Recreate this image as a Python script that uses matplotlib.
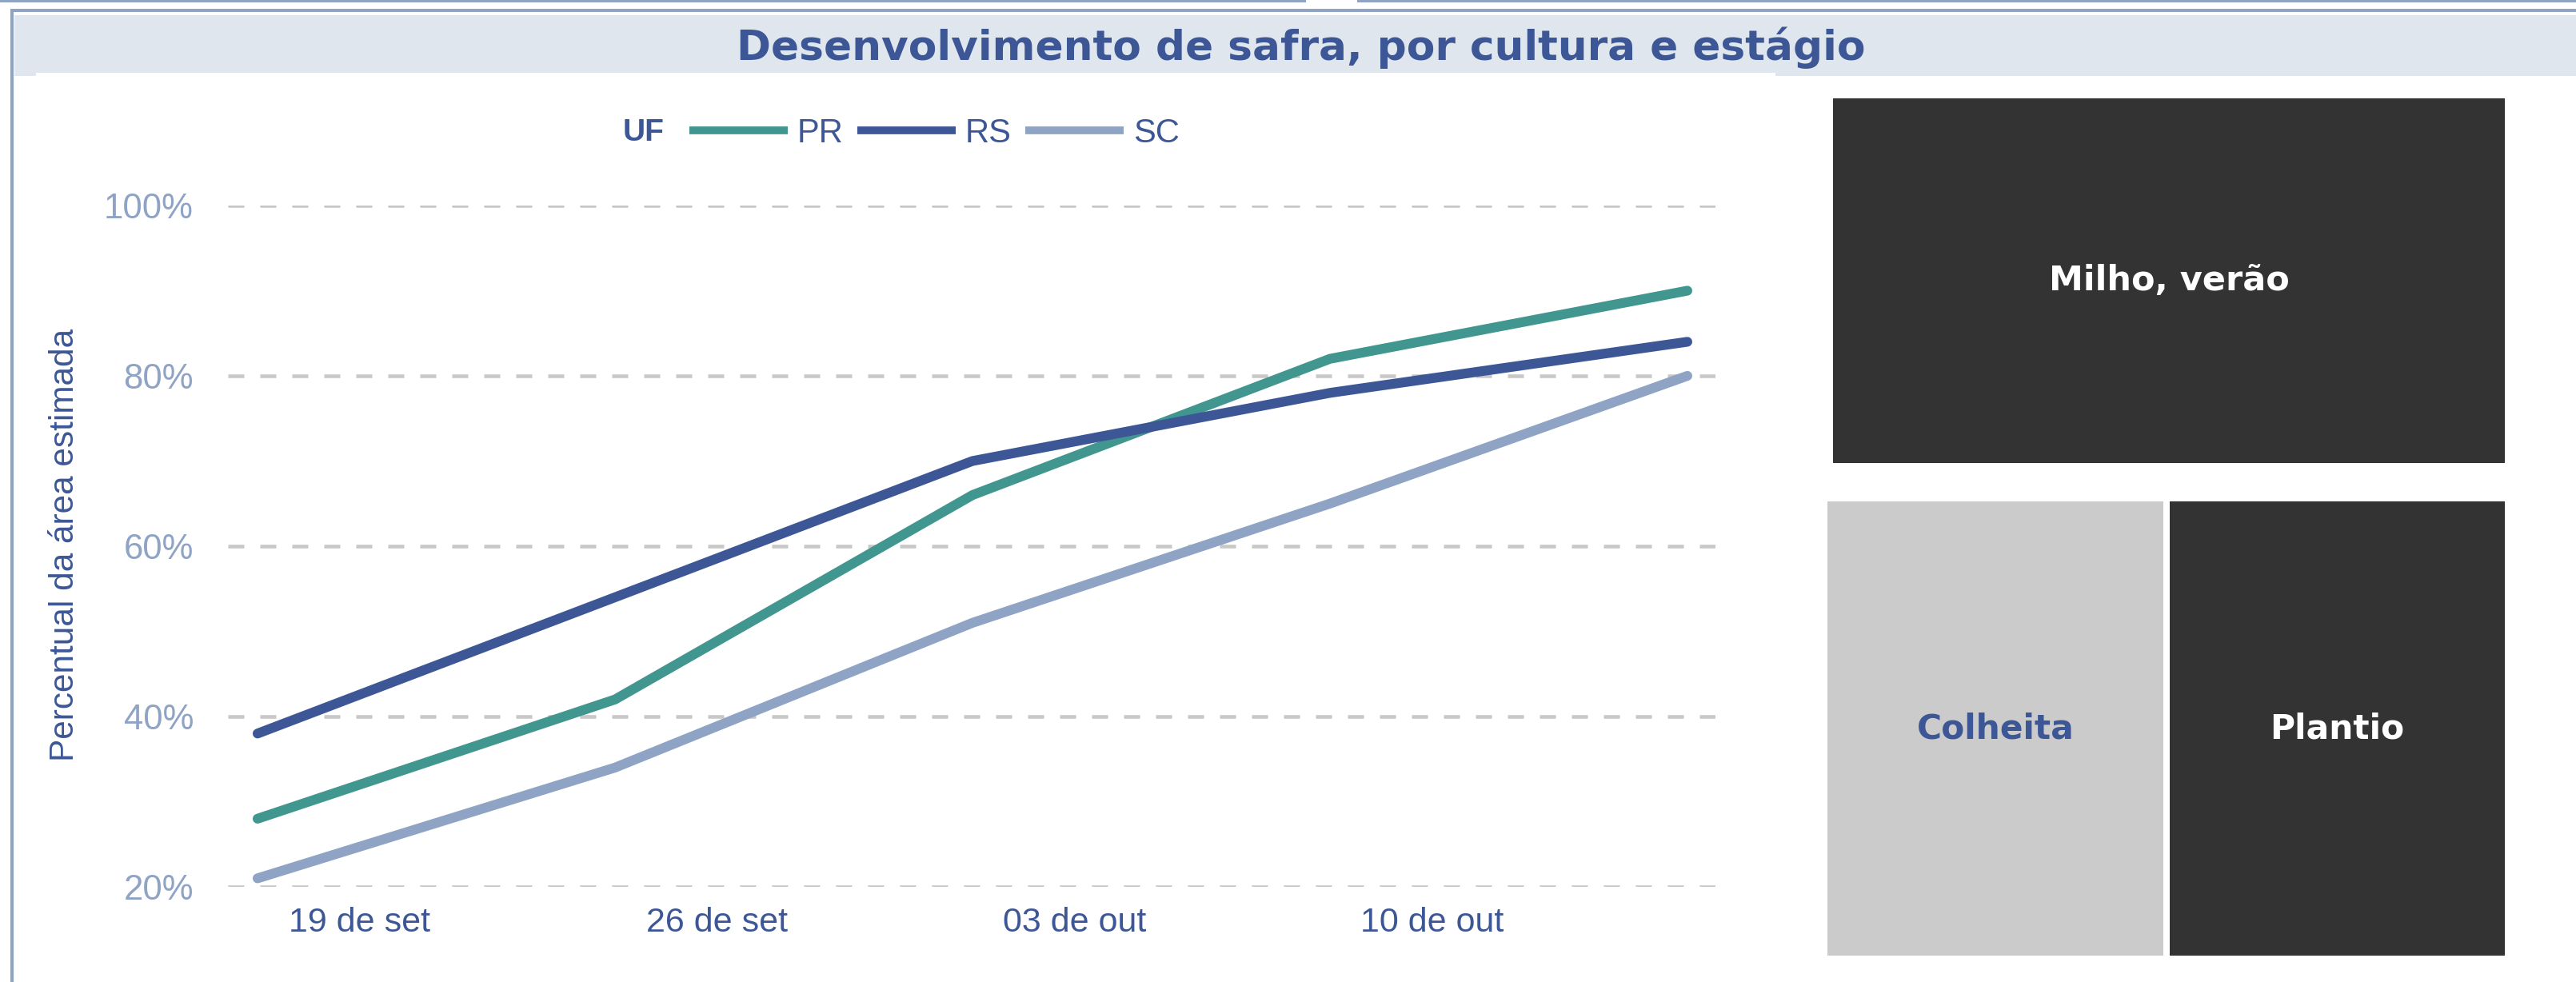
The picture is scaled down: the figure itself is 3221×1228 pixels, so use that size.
import matplotlib
matplotlib.use('Agg')
import matplotlib.pyplot as plt
from matplotlib.patches import Rectangle
from matplotlib.lines import Line2D
import pandas as pd

plt.rcParams['font.family'] = ['Liberation Sans', 'DejaVu Sans']
plt.rcParams['lines.scale_dashes'] = False

# ---------------- data ----------------
title = "Desenvolvimento de safra, por cultura e estágio"
dates = pd.to_datetime(['2024-09-17', '2024-09-24', '2024-10-01', '2024-10-08', '2024-10-15'])
tick_dates = pd.to_datetime(['2024-09-19', '2024-09-26', '2024-10-03', '2024-10-10'])
tick_labels = ['19 de set', '26 de set', '03 de out', '10 de out']
series_names = ['PR', 'RS', 'SC']
pr = [28, 42, 66, 82, 90]
rs = [38, 54, 70, 78, 84]
sc = [21, 34, 51, 65, 80]
y_ticks = [20, 40, 60, 80, 100]
legend_title = 'UF'
y_label = 'Percentual da área estimada'
crop_label = 'Milho, verão'
stage_labels = ['Colheita', 'Plantio']

# ---------------- style ----------------
W, H, DPI = 3221, 1228, 100
BLUE = '#3D5796'
LIGHT = '#8FA3C4'
TEAL = '#41968F'
BAND = '#DFE6EE'
GRID = '#C8C8C8'
DARK = '#333333'
LGRAY = '#CBCBCB'
colors = [TEAL, BLUE, LIGHT]
BOLD_FAMILY = ['DejaVu Sans']

fig = plt.figure(figsize=(W / DPI, H / DPI), dpi=DPI)
fig.patch.set_facecolor('white')


def frect(x0, y0, x1, y1, color, z=0):
    """rectangle in pixel coords measured from top-left"""
    r = Rectangle((x0 / W, 1 - y1 / H), (x1 - x0) / W, (y1 - y0) / H,
                  transform=fig.transFigure, facecolor=color, edgecolor='none', zorder=z)
    fig.add_artist(r)
    return r


# frame decorations
frect(0, 0, 1633, 3, LIGHT)
frect(1697, 0, W, 3, LIGHT)
frect(13, 11, W, 15, LIGHT)
frect(13, 11, 17, H, LIGHT)
frect(18, 19, W, 91, BAND)
frect(18, 91, 45, 95, BAND)
frect(2220, 91, W, 95, BAND)
fig.text(1627 / W, 1 - 60 / H, title, ha='center', va='center', fontsize=37.3,
         fontweight='bold', color=BLUE, family=BOLD_FAMILY)

# ---------------- line chart ----------------
ax_l, ax_r, ax_t, ax_b = 285, 2145, 257, 1109
ax = fig.add_axes([ax_l / W, 1 - ax_b / H, (ax_r - ax_l) / W, (ax_b - ax_t) / H])
ax.set_facecolor('none')
for s in ax.spines.values():
    s.set_visible(False)

handles = []
for name, vals, c in zip(series_names, [pr, rs, sc], colors):
    ax.plot(dates, vals, color=c, lw=8.8, solid_capstyle='round',
            solid_joinstyle='round', clip_on=False, zorder=3, label=name)
    handles.append(Line2D([], [], color=c, lw=7, solid_capstyle='butt'))

ax.set_xlim(dates[0] - pd.Timedelta(days=0.58), dates[-1] + pd.Timedelta(days=0.55))
ax.set_ylim(20, 100)
ax.set_yticks(y_ticks)
ax.set_yticklabels([f'{v}%' for v in y_ticks])
ax.set_xticks(tick_dates)
ax.set_xticklabels(tick_labels)
ax.tick_params(axis='y', length=0, pad=31, labelsize=31.5, labelcolor=LIGHT)
ax.tick_params(axis='x', length=0, pad=18, labelsize=31, labelcolor=BLUE)
ax.grid(axis='y', color=GRID, linewidth=3.3, linestyle=(0, (14.4, 14.4)), zorder=0)
ax.grid(axis='x', visible=False)

fig.text(81 / W, 1 - 681 / H, y_label, rotation=90, ha='center', va='center',
         fontsize=30.5, color=BLUE)

# legend
fs = 30
px_em = fs * DPI / 72
leg = fig.legend(handles, series_names, loc='center left',
                 bbox_to_anchor=(862 / W, 1 - 167 / H), ncol=3, frameon=False,
                 fontsize=fs, labelcolor=BLUE, handlelength=123 / px_em,
                 handletextpad=12 / px_em, columnspacing=17 / px_em,
                 borderpad=0, borderaxespad=0)
fig.text(779 / W, 1 - 166 / H, legend_title, ha='left', va='center', fontsize=28,
         fontweight='bold', color=BLUE)

# ---------------- right tiles ----------------
frect(2292, 123, 3132, 579, DARK)
fig.text((2292 + 3132) / 2 / W, 1 - 351 / H, crop_label, ha='center', va='center',
         fontsize=31, fontweight='bold', color='white', family=BOLD_FAMILY)
frect(2285, 627, 2705, 1195, LGRAY)
frect(2713, 627, 3132, 1195, DARK)
fig.text((2285 + 2705) / 2 / W, 1 - 911 / H, stage_labels[0], ha='center', va='center',
         fontsize=30.5, fontweight='bold', color=BLUE, family=BOLD_FAMILY)
fig.text((2713 + 3132) / 2 / W, 1 - 911 / H, stage_labels[1], ha='center', va='center',
         fontsize=30.5, fontweight='bold', color='white', family=BOLD_FAMILY)

fig.savefig('out.png', dpi=DPI)
